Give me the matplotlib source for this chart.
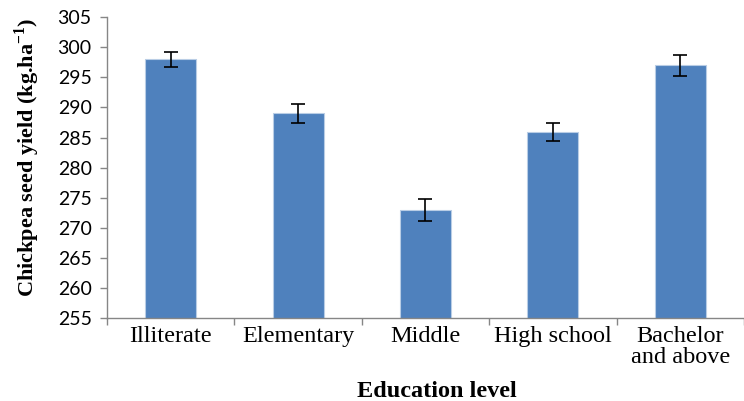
import matplotlib.pyplot as plt
import numpy as np

plt.rcParams['mathtext.fontset'] = 'custom'
plt.rcParams['mathtext.rm'] = 'Liberation Serif'
plt.rcParams['mathtext.bf'] = 'Liberation Serif:bold'

# data
levels = ['Illiterate', 'Elementary', 'Middle', 'High school', 'Bachelor\nand above']
yield_vals = [298, 289, 273, 286, 297]
yield_err = [1.25, 1.65, 1.85, 1.5, 1.7]

fig = plt.figure(figsize=(7.44, 4.01), dpi=100)
ax = fig.add_axes([0.1438, 0.207, 0.8562, 0.75])

x = np.arange(len(levels))
ax.bar(x, yield_vals, width=0.4, color='#4F81BD', edgecolor='#B9CDE5', linewidth=0.8,
       yerr=yield_err, capsize=5, error_kw=dict(ecolor='black', elinewidth=1.2, capthick=1.2))

ax.set_ylim(255, 305)
ax.set_yticks(np.arange(255, 306, 5))
ax.set_xlim(-0.5, 4.4)

ax.set_xticks(x)
ax.set_xticklabels(levels, fontfamily='Liberation Serif', fontsize=17.5, linespacing=0.95)
ax.set_xticks(np.arange(-0.5, 4.6, 1), minor=True)
ax.tick_params(axis='x', which='major', length=0, pad=6)
ax.tick_params(axis='x', which='minor', length=5, color='#868686', width=1)
ax.tick_params(axis='y', length=5, color='#868686', width=1, labelsize=14, pad=6)
for lab in ax.get_yticklabels():
    lab.set_fontfamily('Lato')

for side in ['top', 'right']:
    ax.spines[side].set_visible(False)
for side in ['left', 'bottom']:
    ax.spines[side].set_color('#868686')
    ax.spines[side].set_linewidth(1)

ax.set_xlabel('Education level', fontfamily='Liberation Serif', fontsize=17.5,
              fontweight='bold')
ax.xaxis.label.set_va('center')
ax.xaxis.set_label_coords(0.518, -0.245)
ax.set_ylabel('Chickpea seed yield (kg.ha$^{\\mathbf{-1}}$)', fontfamily='Liberation Serif',
              fontsize=16, fontweight='bold')
ax.yaxis.label.set_va('center')
ax.yaxis.set_label_coords(-0.126, 0.535)

plt.savefig('out.png', dpi=100)
